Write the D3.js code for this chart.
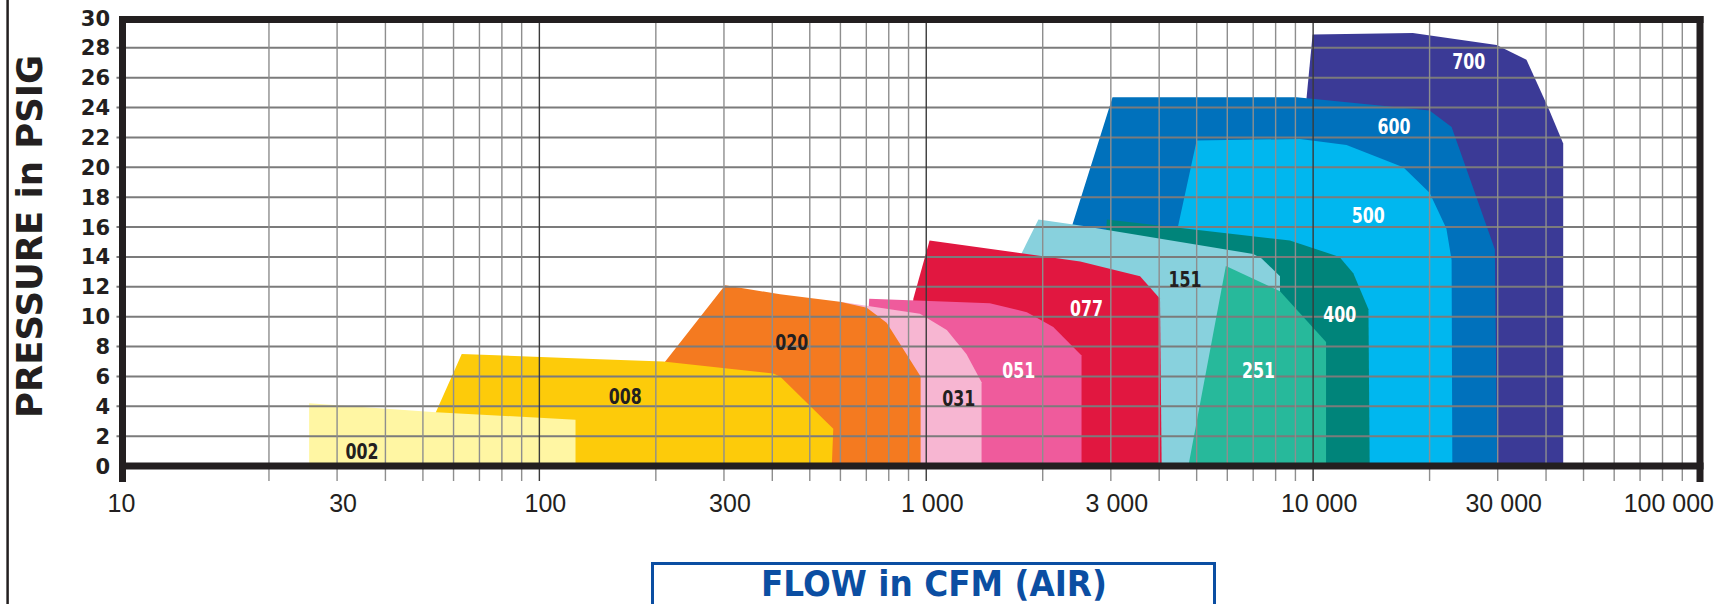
<!DOCTYPE html>
<html>
<head>
<meta charset="utf-8">
<script src="https://cdn.jsdelivr.net/npm/d3@7"></script>
<style>
  body { margin: 0; background: #fff; }
  svg { display: block; }
</style>
</head>
<body>
<script>
// pump ranges, outline points as [flow in CFM, pressure in PSIG]
var s700 = [[9620,0],[9620,24.7],[9970,28.9],[18100,29.0],[29800,28.2],[35600,27.2],[40500,24.0],[44300,21.6],[44300,0]];
var s600 = [[1520,0],[2390,16.2],[3030,24.7],[9070,24.7],[20000,23.8],[22800,22.7],[29500,14.5],[29900,0]];
var s500 = [[3280,0],[4480,16.1],[5000,21.8],[9250,21.9],[12200,21.5],[17100,20.0],[20000,18.3],[22100,15.9],[22800,13.8],[22900,0]];
var s400 = [[2650,0],[2930,16.5],[8710,15.1],[11700,14.0],[12700,12.9],[13900,10.5],[14000,0]];
var s151 = [[1550,0],[1760,14.2],[1950,16.5],[2500,16.1],[7000,14.2],[7360,13.9],[8210,12.7],[8210,0]];
var s251 = [[4760,0],[5950,13.4],[8210,11.7],[10800,8.3],[10800,0]];
var s077 = [[855,0],[926,11.2],[1020,15.1],[2500,13.7],[3570,12.7],[4020,11.2],[4060,0]];
var s051 = [[674,0],[712,11.2],[1460,10.9],[1820,10.3],[2130,9.3],[2520,7.4],[2520,0]];
var s031 = [[472,0],[598,11.0],[963,10.2],[1130,9.1],[1270,7.5],[1390,5.6],[1390,0]];
var s020 = [[129,0],[213,7.1],[302,12.1],[419,11.5],[598,11.0],[702,10.6],[790,9.6],[967,6.0],[967,0]];
var s008 = [[47,0],[54,3.6],[63,7.5],[143,7.15],[209,7.0],[402,6.2],[419,6.0],[575,2.5],[570,0]];
var s002 = [[25.4,0],[25.4,4.2],[54,3.6],[124,3.1],[124,0]];

// back to front
var seriesNames = ["700","600","500","400","151","251","077","051","031","020","008","002"];
var outlines = [s700, s600, s500, s400, s151, s251, s077, s051, s031, s020, s008, s002];
var seriesColors = ["#3b3a96","#0071bc","#00b7ef","#00847a","#88d1dd","#27b99b",
                    "#e11740","#ef5b9c","#f7b6d2","#f47a20","#fdcb0a","#fff6a3"];
var darkLabel = ["151","031","020","008","002"];

// where each model number sits
var labelFlow = [25250, 16180, 13880, 11710, 4664, 7222, 2597, 1734, 1213, 449, 166.7, 34.8];
var labelPsi  = [27.07, 22.72, 16.75, 10.13, 12.49, 6.36, 10.51, 6.36, 4.49, 8.27, 4.64, 0.96];

var xTickValues = [10, 30, 100, 300, 1000, 3000, 10000, 30000, 100000];
var xTickText = ["10", "30", "100", "300", "1 000", "3 000", "10 000", "30 000", "100 000"];
var yTickValues = d3.range(0, 31, 2);

var W = 1726, H = 604;
var plotLeft = 122.5, plotRight = 1700, plotTop = 19.5, plotBottom = 466;

var x = d3.scaleLog().domain([10, 100000]).range([152.5, plotRight]);
var y = d3.scaleLinear().domain([0, 30]).range([466, 18]);

var svg = d3.select("body").append("svg")
    .attr("width", W)
    .attr("height", H);

svg.append("rect").attr("width", W).attr("height", H).attr("fill", "#fff");

// page rule at the far left
svg.append("line")
    .attr("x1", 7.6).attr("x2", 7.6).attr("y1", 0).attr("y2", H)
    .attr("stroke", "#231f20").attr("stroke-width", 2.5);

var outline = d3.line()
    .x(function(d) { return x(d[0]); })
    .y(function(d) { return y(d[1]); });

svg.append("g").selectAll("path")
    .data(seriesNames)
  .enter().append("path")
    .attr("d", function(d, i) { return outline(outlines[i]) + "Z"; })
    .attr("fill", function(d, i) { return seriesColors[i]; });

// grid
var gridFlows = [];
[10, 100, 1000, 10000].forEach(function(dec) {
    if (dec > 10) gridFlows.push(dec);
    for (var m = 2; m <= 9; m++) gridFlows.push(m * dec);
});

var grid = svg.append("g");
grid.selectAll("line.h")
    .data(yTickValues.filter(function(v) { return v > 0 && v < 30; }))
  .enter().append("line")
    .attr("class", "h")
    .attr("x1", plotLeft - 6).attr("x2", plotRight)
    .attr("y1", function(d) { return y(d); })
    .attr("y2", function(d) { return y(d); })
    .attr("stroke", "#7b7b7b").attr("stroke-width", 2);

grid.selectAll("line.v")
    .data(gridFlows)
  .enter().append("line")
    .attr("class", "v")
    .attr("x1", function(d) { return x(d); })
    .attr("x2", function(d) { return x(d); })
    .attr("y1", plotTop).attr("y2", plotBottom + 15)
    .attr("stroke", function(d) { return [100, 1000, 10000].indexOf(d) >= 0 ? "#3a3a3a" : "#8e8e8e"; })
    .attr("stroke-width", 1.4);

// frame
var frame = svg.append("g").attr("stroke", "#231f20").attr("stroke-width", 7);
frame.append("line").attr("x1", plotLeft - 3.5).attr("x2", plotRight + 3.5).attr("y1", plotTop).attr("y2", plotTop);
frame.append("line").attr("x1", plotLeft - 3.5).attr("x2", plotRight + 3.5).attr("y1", plotBottom).attr("y2", plotBottom);
frame.append("line").attr("x1", plotLeft).attr("x2", plotLeft).attr("y1", plotTop - 3.5).attr("y2", plotBottom + 16);
frame.append("line").attr("x1", plotRight).attr("x2", plotRight).attr("y1", plotTop - 3.5).attr("y2", plotBottom + 16);

// model numbers
svg.append("g").selectAll("text")
    .data(seriesNames)
  .enter().append("text")
    .attr("x", function(d, i) { return x(labelFlow[i]); })
    .attr("y", function(d, i) { return y(labelPsi[i]); })
    .attr("dy", "0.36em")
    .attr("text-anchor", "middle")
    .attr("font-family", "'DejaVu Sans', sans-serif")
    .attr("font-weight", "bold")
    .attr("font-size", 20.5)
    .attr("textLength", 33)
    .attr("lengthAdjust", "spacingAndGlyphs")
    .attr("fill", function(d) { return darkLabel.indexOf(d) >= 0 ? "#231f20" : "#fff"; })
    .text(function(d) { return d; });

// y tick labels
svg.append("g").selectAll("text")
    .data(yTickValues)
  .enter().append("text")
    .attr("x", 110)
    .attr("y", function(d) { return y(d); })
    .attr("dy", "0.36em")
    .attr("text-anchor", "end")
    .attr("font-family", "'DejaVu Sans', sans-serif")
    .attr("font-weight", "bold")
    .attr("font-size", 21)
    .attr("fill", "#231f20")
    .text(function(d) { return d; });

// x tick labels
svg.append("g").selectAll("text")
    .data(xTickValues)
  .enter().append("text")
    .attr("x", function(d) {
        if (d === 10) return plotLeft - 1;
        if (d === 100000) return x(d) + 14;
        return x(d) + 6;
    })
    .attr("y", 511.5)
    .attr("text-anchor", function(d) { return d === 100000 ? "end" : "middle"; })
    .attr("font-family", "'Liberation Sans', Arial, sans-serif")
    .attr("font-size", 25)
    .attr("fill", "#231f20")
    .text(function(d, i) { return xTickText[i]; });

// axis titles
svg.append("text")
    .attr("transform", "translate(42,236.5) rotate(-90)")
    .attr("text-anchor", "middle")
    .attr("font-family", "'DejaVu Sans', sans-serif")
    .attr("font-weight", "bold")
    .attr("font-size", 36)
    .attr("textLength", 363)
    .attr("lengthAdjust", "spacingAndGlyphs")
    .attr("fill", "#231f20")
    .text("PRESSURE in PSIG");

svg.append("rect")
    .attr("x", 652.5).attr("y", 563.5)
    .attr("width", 562).attr("height", 70)
    .attr("fill", "none")
    .attr("stroke", "#0b4ea2").attr("stroke-width", 3);

svg.append("text")
    .attr("x", 934).attr("y", 595.5)
    .attr("text-anchor", "middle")
    .attr("font-family", "'DejaVu Sans', sans-serif")
    .attr("font-weight", "bold")
    .attr("font-size", 36)
    .attr("textLength", 346)
    .attr("lengthAdjust", "spacingAndGlyphs")
    .attr("fill", "#0b4ea2")
    .text("FLOW in CFM (AIR)");
</script>
</body>
</html>
